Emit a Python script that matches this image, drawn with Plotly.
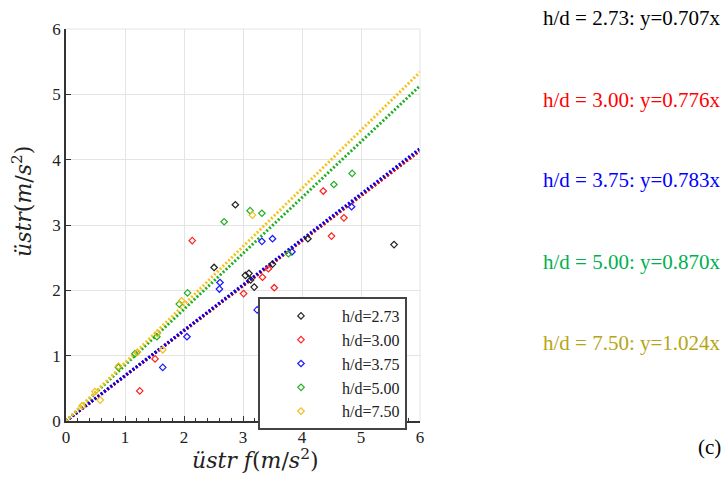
import plotly.graph_objects as go

# ---- data ----
series_names = ["h/d=2.73", "h/d=3.00", "h/d=3.75", "h/d=5.00", "h/d=7.50"]
label_hd = ["2.73", "3.00", "3.75", "5.00", "7.50"]
label_slopes = ["0.707", "0.776", "0.783", "0.870", "1.024"]

black_x = [2.87, 2.51, 3.04, 3.10, 3.19, 3.13, 3.50, 4.10, 5.56]
black_y = [3.31, 2.35, 2.23, 2.26, 2.05, 2.16, 2.40, 2.79, 2.70]
red_x = [2.14, 3.01, 4.36, 4.71, 4.50, 3.43, 3.33, 3.53, 1.25, 1.51]
red_y = [2.76, 1.95, 3.52, 3.11, 2.83, 2.33, 2.20, 2.04, 0.46, 0.95]
blue_x = [2.61, 2.60, 4.84, 3.32, 3.50, 3.83, 3.24, 2.05, 1.64]
blue_y = [2.12, 2.02, 3.28, 2.75, 2.79, 2.59, 1.70, 1.29, 0.82]
green_x = [3.12, 3.32, 2.68, 4.85, 4.54, 2.06, 1.92, 1.54, 1.17, 0.89, 3.77]
green_y = [3.22, 3.18, 3.05, 3.79, 3.62, 1.96, 1.79, 1.29, 1.03, 0.82, 2.56]
yellow_x = [3.16, 1.96, 1.64, 1.21, 0.89, 0.58, 0.27, 0.49, 1.55]
yellow_y = [3.15, 1.84, 1.09, 1.05, 0.84, 0.32, 0.23, 0.45, 1.34]

# slopes of the drawn fit lines as they appear in the picture
line_slopes = [0.69, 0.69, 0.695, 0.855, 0.89]
line_x = [0, 6]

xs = [black_x, red_x, blue_x, green_x, yellow_x]
ys = [black_y, red_y, blue_y, green_y, yellow_y]

marker_colors = ["#222222", "#ff2020", "#1a1aff", "#22b022", "#f2bd1d"]
line_colors = ["#222222", "#ff0000", "#0000ff", "#1fae1f", "#f5c21b"]
label_colors = ["#000000", "#ff0000", "#0000ff", "#00b050", "#b5a514"]

SERIF = "Liberation Serif, serif"
MATH = "DejaVu Serif, serif"

fig = go.Figure()

# fit lines
for i in range(5):
    fig.add_trace(go.Scatter(
        x=line_x, y=[line_slopes[i] * v for v in line_x],
        mode="lines", line=dict(color=line_colors[i], width=3, dash="2px,2px"),
        showlegend=False, hoverinfo="skip"))

# scatter points
for i in range(5):
    fig.add_trace(go.Scatter(
        x=xs[i], y=ys[i], mode="markers", name=series_names[i],
        marker=dict(symbol="diamond-open", size=5, color=marker_colors[i],
                    line=dict(width=1.2, color=marker_colors[i]))))

# pixel -> paper helpers (plot area 66..420 x, 29..421 y)
L, R, T, B = 66, 420, 29, 421
def px(xp):
    return (xp - L) / (R - L)
def py(yp):
    return (B - yp) / (B - T)

annotations = []
label_y_px = [18, 100, 180, 262, 343]
for i in range(5):
    annotations.append(dict(
        xref="paper", yref="paper", x=px(541), y=py(label_y_px[i]),
        xanchor="left", yanchor="middle", showarrow=False,
        text=f"h/d = {label_hd[i]}: y={label_slopes[i]}x",
        font=dict(family=SERIF, size=21, color=label_colors[i])))
annotations.append(dict(
    xref="paper", yref="paper", x=px(723), y=py(447), xanchor="right",
    yanchor="middle", showarrow=False, text="(c)",
    font=dict(family=SERIF, size=21, color="black")))
# axis titles
annotations.append(dict(
    xref="paper", yref="paper", x=px(255), y=py(459), xanchor="center",
    yanchor="middle", showarrow=False,
    text="<i>üstr f</i>(<i>m</i>/<i>s</i><sup>2</sup>)",
    font=dict(family=MATH, size=22, color="#222")))
annotations.append(dict(
    xref="paper", yref="paper", x=px(22), y=py(202), xanchor="center",
    yanchor="middle", showarrow=False, textangle=-90,
    text="<i>üstr</i>(<i>m</i>/<i>s</i><sup>2</sup>)",
    font=dict(family=MATH, size=22, color="#222")))

fig.update_layout(
    width=724, height=477,
    margin=dict(l=L, r=724 - R, t=T, b=477 - B),
    plot_bgcolor="white", paper_bgcolor="white",
    annotations=annotations,
    legend=dict(
        x=px(258), y=py(297), xanchor="left", yanchor="top",
        bgcolor="white", bordercolor="#444", borderwidth=2,
        font=dict(family=SERIF, size=16, color="#222"),
        itemwidth=72, tracegroupgap=0,
    ),
)

fig.update_xaxes(
    range=[0, 6], dtick=1, showgrid=True, gridcolor="#e4e4e4", gridwidth=1,
    showline=True, linecolor="#333", linewidth=1.5, mirror=False,
    ticks="inside", ticklen=5, tickcolor="#333",
    minor=dict(dtick=0.2, ticks="inside", ticklen=3, tickcolor="#333", showgrid=False),
    tickfont=dict(family=SERIF, size=17, color="#222"), zeroline=False,
)
fig.update_yaxes(
    range=[0, 6], dtick=1, showgrid=True, gridcolor="#e4e4e4", gridwidth=1,
    showline=True, linecolor="#333", linewidth=1.5, mirror=False,
    ticks="inside", ticklen=5, tickcolor="#333",
    tickfont=dict(family=SERIF, size=17, color="#222"), zeroline=False,
)
# light top/right frame lines (grid-coloured)
fig.add_shape(type="line", xref="paper", yref="paper", x0=0, x1=1, y0=1, y1=1,
              line=dict(color="#e4e4e4", width=1))
fig.add_shape(type="line", xref="paper", yref="paper", x0=1, x1=1, y0=0, y1=1,
              line=dict(color="#e4e4e4", width=1))

fig.write_html("out.html")
